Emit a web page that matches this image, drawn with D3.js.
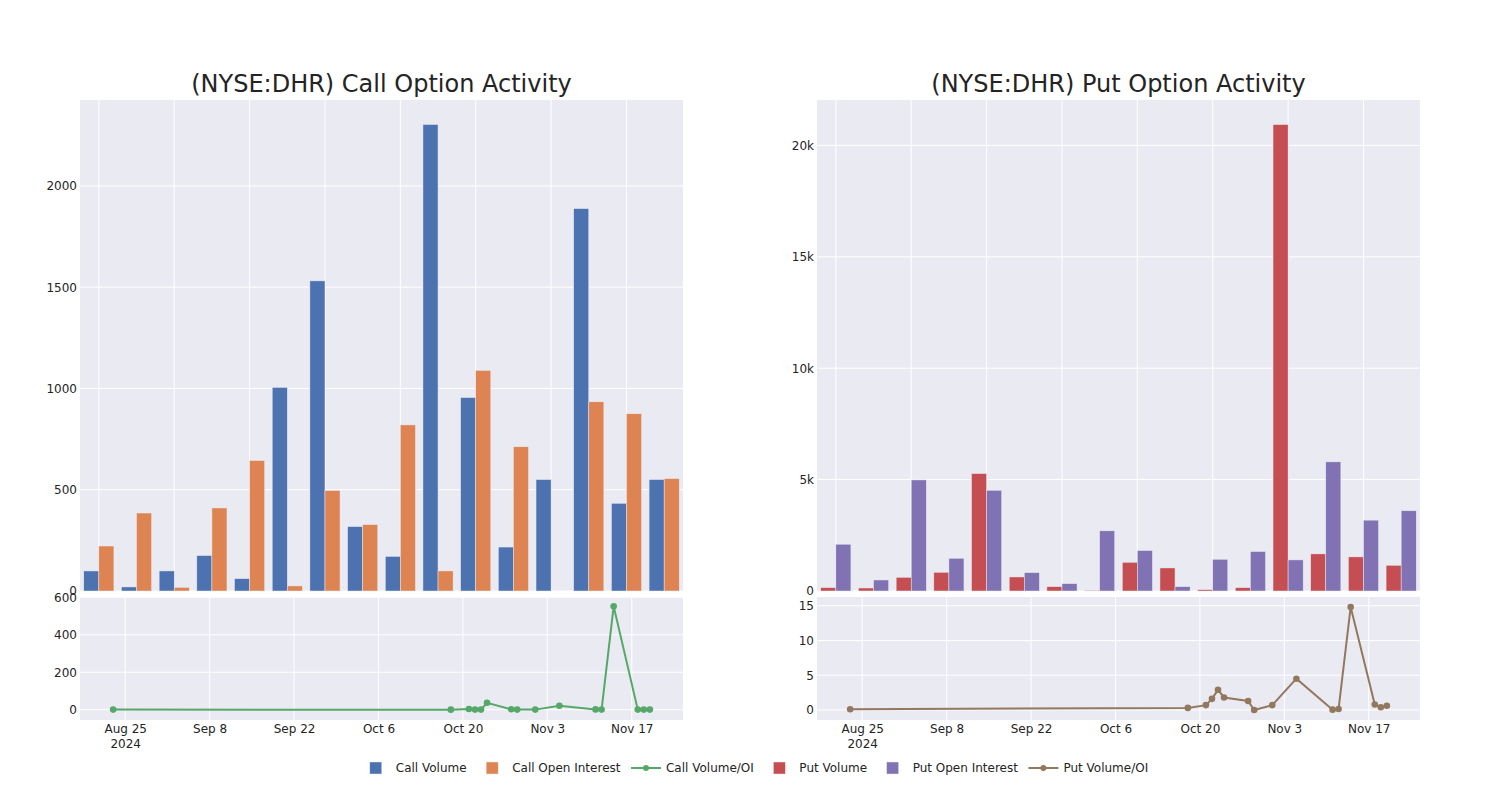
<!DOCTYPE html>
<html><head><meta charset="utf-8">
<script src="https://cdn.jsdelivr.net/npm/d3@7"></script>
<style>
body{margin:0;background:#fff;}
svg text{font-family:"DejaVu Sans",sans-serif;fill:rgb(36,36,36);}
</style></head>
<body><svg id="chart" width="1500" height="800"></svg>
<script>
// ---------------- data ----------------
const dates = ["2024-08-23","2024-10-18","2024-10-21","2024-10-22","2024-10-23","2024-10-24","2024-10-28","2024-10-29","2024-11-01","2024-11-05","2024-11-11","2024-11-12","2024-11-14","2024-11-18","2024-11-19","2024-11-20"];
const callVolume = [99, 20, 99, 175, 61, 1005, 1531, 318, 171, 2303, 955, 217, 550, 1888, 433, 550];
const callOpenInterest = [222, 385, 18, 410, 644, 25, 496, 328, 820, 99, 1089, 712, 0, 934, 875, 555];
const callRatio = [0.4, 0.3, 4, 0.4, 0.5, 37, 2, 0.5, 0.4, 21, 1.5, 0.4, 552, 0.5, 0.4, 0.4];
const putVolume = [150, 135, 615, 840, 5270, 630, 195, 30, 1290, 1035, 60, 150, 20934, 1665, 1530, 1155];
const putOpenInterest = [2100, 495, 4985, 1470, 4520, 825, 330, 2700, 1815, 195, 1425, 1770, 1395, 5795, 3180, 3600];
const putRatio = [0.1, 0.3, 0.7, 1.6, 2.9, 1.8, 1.3, 0.0, 0.7, 4.5, 0.05, 0.15, 14.8, 0.8, 0.4, 0.6];
const dateTicks = ["2024-08-25","2024-09-08","2024-09-22","2024-10-06","2024-10-20","2024-11-03","2024-11-17"];
const dateRange = ["2024-08-17T12:00","2024-11-25T12:00"];
const callBarTicks = [0, 500, 1000, 1500, 2000];
const callRatioTicks = [0, 200, 400, 600];
const putBarTicks = [0, 5000, 10000, 15000, 20000];
const putRatioTicks = [0, 5, 10, 15];
const titles = ["(NYSE:DHR) Call Option Activity", "(NYSE:DHR) Put Option Activity"];

const colors = {callVol:"rgb(76,114,176)", callOI:"rgb(221,132,82)", callRatio:"rgb(85,168,104)",
  putVol:"rgb(196,78,82)", putOI:"rgb(129,114,179)", putRatio:"rgb(147,120,96)"};
const BG = "rgb(234,234,242)";

const svg = d3.select("#chart");
const parseDay = d3.utcParse("%Y-%m-%d");
const parseDT = d3.utcParse("%Y-%m-%dT%H:%M");
const fmtDay = d3.utcFormat("%b %-d");

const topP = {y0:100, y1:591}, botP = {y0:597, y1:720};

function panel(x0, x1, cfg){
  const g = svg.append("g");
  // ---- top bar subplot ----
  g.append("rect").attr("x",x0).attr("y",topP.y0).attr("width",x1-x0).attr("height",topP.y1-topP.y0).attr("fill",BG);
  const xb = d3.scaleBand().domain(dates).range([x0,x1]).paddingInner(0.2).paddingOuter(0.1);
  const xs = d3.scaleBand().domain(["a","b"]).range([0,xb.bandwidth()]);
  const yb = d3.scaleLinear().domain([0,cfg.barMax]).range([topP.y1, topP.y0]);
  const catCenters = dates.filter((d,i)=>i%2===0);
  g.selectAll(null).data(catCenters).enter().append("line")
    .attr("x1",d=>xb(d)+xb.bandwidth()/2).attr("x2",d=>xb(d)+xb.bandwidth()/2)
    .attr("y1",topP.y0).attr("y2",topP.y1).attr("stroke","#fff").attr("stroke-width",1);
  g.selectAll(null).data(cfg.barTicks).enter().append("line")
    .attr("x1",x0).attr("x2",x1).attr("y1",d=>yb(d)).attr("y2",d=>yb(d))
    .attr("stroke","#fff").attr("stroke-width",1);
  const series = [{k:"a",v:cfg.vol,c:cfg.cVol},{k:"b",v:cfg.oi,c:cfg.cOI}];
  series.forEach(s=>{
    g.selectAll(null).data(dates).enter().append("rect")
      .attr("x",d=>xb(d)+xs(s.k)).attr("width",xs.bandwidth())
      .attr("y",(d,i)=>yb(s.v[i])).attr("height",(d,i)=>yb(0)-yb(s.v[i]))
      .attr("fill",s.c).attr("stroke",BG).attr("stroke-width",0.5);
  });
  const ya = g.append("g").attr("transform",`translate(${x0},0)`)
    .call(d3.axisLeft(yb).tickValues(cfg.barTicks).tickFormat(cfg.barFmt).tickSize(0).tickPadding(3));
  ya.select(".domain").remove();
  ya.selectAll("text").style("font-size","12px").style("font-family","DejaVu Sans").attr("fill","rgb(36,36,36)");

  // ---- bottom ratio subplot ----
  g.append("rect").attr("x",x0).attr("y",botP.y0).attr("width",x1-x0).attr("height",botP.y1-botP.y0).attr("fill",BG);
  const xt = d3.scaleUtc().domain(dateRange.map(parseDT)).range([x0,x1]);
  const yr = d3.scaleLinear().domain(cfg.ratioDomain).range([botP.y1, botP.y0]);
  g.selectAll(null).data(dateTicks).enter().append("line")
    .attr("x1",d=>xt(parseDay(d))).attr("x2",d=>xt(parseDay(d)))
    .attr("y1",botP.y0).attr("y2",botP.y1).attr("stroke","#fff").attr("stroke-width",1);
  g.selectAll(null).data(cfg.ratioTicks).enter().append("line")
    .attr("x1",x0).attr("x2",x1).attr("y1",d=>yr(d)).attr("y2",d=>yr(d))
    .attr("stroke","#fff").attr("stroke-width",1);
  const pts = dates.map((d,i)=>[xt(parseDay(d)), yr(cfg.ratio[i])]);
  g.append("path").attr("d",d3.line()(pts)).attr("fill","none").attr("stroke",cfg.cRatio).attr("stroke-width",2);
  g.selectAll(null).data(pts).enter().append("circle")
    .attr("cx",d=>d[0]).attr("cy",d=>d[1]).attr("r",3.3).attr("fill",cfg.cRatio);
  const yra = g.append("g").attr("transform",`translate(${x0},0)`)
    .call(d3.axisLeft(yr).tickValues(cfg.ratioTicks).tickSize(0).tickPadding(3));
  yra.select(".domain").remove();
  yra.selectAll("text").style("font-size","12px").style("font-family","DejaVu Sans").attr("fill","rgb(36,36,36)");
  const xa = g.append("g").attr("transform",`translate(0,${botP.y1})`)
    .call(d3.axisBottom(xt).tickValues(dateTicks.map(parseDay)).tickFormat(fmtDay).tickSize(0).tickPadding(0));
  xa.select(".domain").remove();
  xa.selectAll("text").style("font-size","12px").style("font-family","DejaVu Sans").attr("fill","rgb(36,36,36)")
    .attr("dy",null).attr("y",13);
  xa.selectAll(".tick").filter((d,i)=>i===0).select("text")
    .append("tspan").attr("x",0).attr("dy",15).text(d=>d3.utcFormat("%Y")(d));
  g.append("text").attr("x",(x0+x1)/2).attr("y",92).attr("text-anchor","middle")
    .style("font-size","24px").text(cfg.title);
}

panel(80, 683, {vol:callVolume, oi:callOpenInterest, ratio:callRatio, barMax:2424, barTicks:callBarTicks,
  barFmt:d3.format("d"), ratioDomain:[-55,601.6], ratioTicks:callRatioTicks,
  cVol:colors.callVol, cOI:colors.callOI, cRatio:colors.callRatio, title:titles[0]});
panel(817, 1420, {vol:putVolume, oi:putOpenInterest, ratio:putRatio, barMax:22036, barTicks:putBarTicks,
  barFmt:d3.format("~s"), ratioDomain:[-1.44,16.25], ratioTicks:putRatioTicks,
  cVol:colors.putVol, cOI:colors.putOI, cRatio:colors.putRatio, title:titles[1]});

// ---------------- legend ----------------
const legendItems = [
  {name:"Call Volume", type:"bar", c:colors.callVol},
  {name:"Call Open Interest", type:"bar", c:colors.callOI},
  {name:"Call Volume/OI", type:"line", c:colors.callRatio},
  {name:"Put Volume", type:"bar", c:colors.putVol},
  {name:"Put Open Interest", type:"bar", c:colors.putOI},
  {name:"Put Volume/OI", type:"line", c:colors.putRatio}];
const lg = svg.append("g");
const ly = 768;
const gap = 5.5;
let cx = 0;
legendItems.forEach(it=>{
  const gi = lg.append("g");
  const t = gi.append("text").attr("x",40).attr("y",ly+4).style("font-size","12px").text(it.name);
  const w = t.node().getComputedTextLength();
  if(it.type==="bar"){
    gi.append("rect").attr("x",14).attr("y",ly-6).attr("width",12).attr("height",12).attr("fill",it.c)
      .attr("stroke",BG).attr("stroke-width",0.5);
  } else {
    gi.append("line").attr("x1",5).attr("x2",35).attr("y1",ly).attr("y2",ly).attr("stroke",it.c).attr("stroke-width",2);
    gi.append("circle").attr("cx",20).attr("cy",ly).attr("r",3).attr("fill",it.c);
  }
  gi.attr("transform",`translate(${cx},0)`);
  cx += 40 + w + gap;
});
const total = cx - gap;
lg.attr("transform",`translate(${752 - total/2},0)`);
</script></body></html>
